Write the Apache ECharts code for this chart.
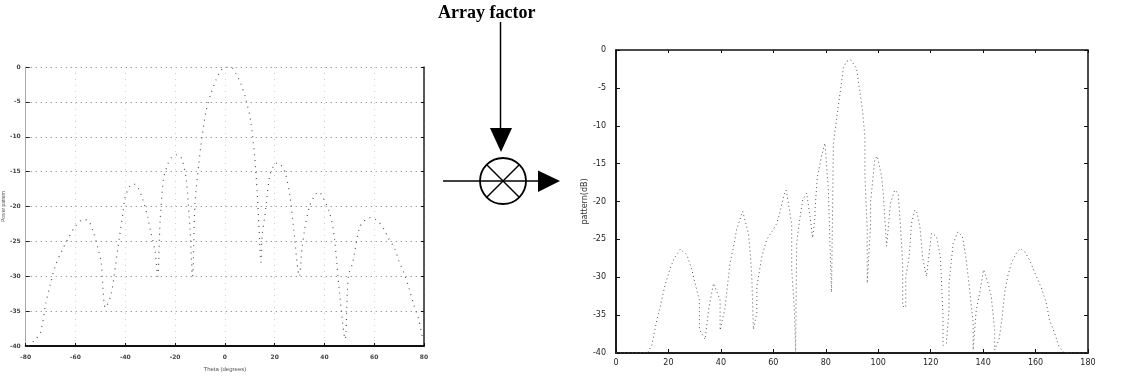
<!DOCTYPE html>
<html>
<head>
<meta charset="utf-8">
<script src="https://cdn.jsdelivr.net/npm/echarts@6/dist/echarts.min.js"></script>
<style>html,body{margin:0;padding:0;background:#fff}#c{width:1128px;height:377px}</style>
</head>
<body>
<div id="c"></div>
<script>
// ---- Left plot: element/subarray pattern (dB) vs theta (deg)
const leftTheta = [-79,-76,-74,-72,-70,-68,-65,-63,-60,-57,-55,-53,-51,-49.7,-48,-45.7,-43,-41,-40,-38,-36.5,-35,-33,-31,-29.8,-28,-27,-26,-24.6,-23,-21.5,-19.5,-17.5,-15.6,-14,-13,-12,-10.5,-9.6,-7.6,-5.6,-3.6,-1.6,0.5,2.4,4.4,6.4,8.4,10.4,12,13,13.7,14.5,15,16,18,19,20.3,21.7,23,24.3,26,27.7,29.9,31,32,34,36.3,37.8,39.2,42,43.9,46,48.3,49.6,51.3,54,55.6,58.3,60.3,62.2,64.2,65.6,68.2,69.9,71.9,73.9,75.8,77.8,79.5];
const leftDb = [-40,-39,-38,-34,-31,-28.4,-26,-24.6,-22.8,-21.9,-22,-23.5,-26,-28,-34.5,-32.6,-26,-21,-18.6,-17,-16.8,-17.2,-19,-21.5,-23.6,-26.5,-30,-22,-16,-14,-13,-12.6,-13,-16,-23.4,-30,-19.5,-14,-11.2,-6.4,-3.8,-1.9,-0.5,0,0,-0.9,-2.4,-4.6,-7.8,-13,-18,-22.9,-28,-24,-21.5,-15.6,-14.6,-13.8,-13.8,-14.3,-15.2,-18.2,-23.4,-30,-26,-23.4,-20,-18.3,-17.9,-18.6,-20.8,-24.2,-32.1,-39,-30,-28.1,-23.1,-22.2,-21.6,-21.8,-22.4,-23.4,-24.5,-26,-27.8,-29.5,-31.6,-34,-36.1,-39];

// ---- Right plot: total pattern (dB) vs angle (deg)
const rightAngle = [0,12,13.7,15.6,16.9,18.8,20.7,22.2,24.5,27,28.9,30.6,31.8,31.8,34,35.3,37.2,39.7,39.7,41.6,42.9,43.5,44.8,46,48.3,50.5,51.2,51.8,52.4,53.7,53.7,55.6,57.5,60,61.3,62.6,64.1,64.9,66.1,67,67,68,68.5,68.9,70.2,71.2,72.7,74,75,75.9,75.9,76.8,78.4,79.7,81,81.8,82.2,82.9,84.1,84.8,85.7,86.7,87.9,89.5,91.7,94,94.9,94.9,95.8,95.8,97.1,97.1,98.7,99.6,101.3,101.9,103.2,104.7,106.3,107.6,108.5,109.3,109.3,110.5,110.5,111.8,112.7,114,114.8,115.9,116.9,117.8,118.4,120.3,122.2,123.7,124.7,124.7,126,127,127,128.6,130.4,132.1,133.4,134.6,136.2,136.2,137.4,138.7,140.2,141.9,143.1,144.4,144.4,146.1,147.3,148.2,149.5,150.8,152.7,154.2,155.8,157.7,160.3,162.2,164.1,165.3,167.3,168.9,171,180];
const rightDb = [-40,-40,-38.9,-35.6,-33.8,-30.9,-28.8,-27.5,-26.3,-27,-29,-31.4,-33,-36.9,-38.2,-34.3,-30.8,-33,-37,-34,-29.9,-28.1,-26,-23.7,-21.3,-24.2,-26.8,-30.1,-36.9,-34.7,-31.2,-27.3,-25,-23.7,-22.9,-21.3,-19.1,-18.5,-21,-23,-29,-34,-40,-25.5,-22,-19.8,-18.9,-22,-24.8,-22,-21,-16.7,-14,-12.3,-18.5,-28,-32,-12.3,-9.2,-7.3,-5.1,-2.4,-1.5,-1.3,-2.4,-7.9,-11.4,-16.3,-23.7,-30.8,-23,-20,-14.5,-14,-16.7,-18.9,-25.9,-20.2,-18.5,-18.9,-23.3,-28,-33.8,-34,-29.9,-27.3,-22.9,-21.1,-21.5,-23.3,-27.3,-29,-29.9,-24.2,-24.6,-27.3,-35,-39,-38.7,-34.3,-30.8,-25.5,-24,-24.6,-27.3,-30.8,-36,-39.6,-34.3,-32.1,-29,-30.8,-32.5,-37,-39.6,-38.2,-35.2,-32,-29.7,-28.1,-26.8,-26.2,-26.6,-27.7,-29.9,-31.4,-33.4,-35.6,-37.4,-39.1,-40,-40];

const dbTicks = [0,-5,-10,-15,-20,-25,-30,-35,-40];

const leftData = leftTheta.map((t, i) => [t, leftDb[i]]);
const rightData = rightAngle.map((t, i) => [t, rightDb[i]]);

const chart = echarts.init(document.getElementById('c'), null, {renderer: 'canvas'});
const tinyLab = {fontSize: 6, color: '#444', fontFamily: 'DejaVu Sans'};
const smallLab = {fontSize: 8, color: '#222', fontFamily: 'DejaVu Sans'};

chart.setOption({
  animation: false,
  backgroundColor: '#fff',
  grid: [
    {left: 22, top: 67, width: 402, height: 282, show: false},
    {left: 616, top: 50, width: 472, height: 303, show: true, borderColor: '#111', borderWidth: 1.5, backgroundColor: 'transparent'}
  ],
  xAxis: [
    {gridIndex: 0, type: 'value', min: -80, max: 80, interval: 20,
     name: 'Theta (degrees)', nameLocation: 'middle', nameGap: 20, nameTextStyle: {fontSize: 6, color: '#555'},
     axisLine: {onZero: false, lineStyle: {color: '#111', width: 2}},
     axisTick: {inside: true, length: 3, lineStyle: {color: '#111'}},
     axisLabel: Object.assign({margin: 8, fontWeight: 'bold'}, tinyLab),
     splitLine: {show: true, lineStyle: {color: '#d0d0d0', type: [1, 5], width: 1}}},
    {gridIndex: 1, type: 'value', min: 0, max: 180, interval: 20,
     axisLine: {onZero: false, lineStyle: {color: '#111', width: 1.5}},
     axisTick: {inside: true, length: 4, lineStyle: {color: '#111'}},
     axisLabel: Object.assign({margin: 6}, smallLab),
     splitLine: {show: false}},
    {gridIndex: 1, type: 'value', min: 0, max: 180, interval: 20, position: 'top',
     axisLine: {show: false, onZero: false}, axisTick: {inside: true, length: 3, lineStyle: {color: '#111'}},
     axisLabel: {show: false}, splitLine: {show: false}}
  ],
  yAxis: [
    {gridIndex: 0, type: 'value', min: -40, max: 0, interval: 5,
     name: 'Power pattern', nameLocation: 'middle', nameGap: 14, nameRotate: 90, nameTextStyle: {fontSize: 5, color: '#555'},
     axisLine: {show: true, onZero: false, lineStyle: {color: '#aaa', width: 1}},
     axisTick: {inside: true, length: 4, lineStyle: {color: '#222'}},
     axisLabel: Object.assign({margin: 5, fontWeight: 'bold'}, tinyLab),
     splitLine: {show: true, lineStyle: {color: '#777', type: [1, 4], width: 1}}},
    {gridIndex: 0, type: 'value', min: -40, max: 0, interval: 5, position: 'right',
     axisLine: {show: true, onZero: false, lineStyle: {color: '#222', width: 1.5}},
     axisTick: {inside: true, length: 3, lineStyle: {color: '#111'}},
     axisLabel: {show: false}, splitLine: {show: false}},
    {gridIndex: 1, type: 'value', min: -40, max: 0, interval: 5,
     name: 'pattern(dB)', nameLocation: 'middle', nameGap: 27, nameRotate: 90,
     nameTextStyle: {fontSize: 8, color: '#333', fontFamily: 'DejaVu Sans'},
     axisLine: {onZero: false, lineStyle: {color: '#111', width: 1.5}},
     axisTick: {inside: true, length: 4, lineStyle: {color: '#111'}},
     axisLabel: Object.assign({margin: 10}, smallLab),
     splitLine: {show: false}},
    {gridIndex: 1, type: 'value', min: -40, max: 0, interval: 5, position: 'right',
     axisLine: {show: false, onZero: false}, axisTick: {inside: true, length: 4, lineStyle: {color: '#111'}},
     axisLabel: {show: false}, splitLine: {show: false}}
  ],
  series: [
    {type: 'line', xAxisIndex: 0, yAxisIndex: 0, data: leftData, showSymbol: false, smooth: 0.3,
     lineStyle: {color: '#555', width: 1.2, type: [1, 5]}},
    {type: 'line', xAxisIndex: 1, yAxisIndex: 2, data: rightData, showSymbol: false,
     lineStyle: {color: '#555', width: 1, type: [1, 3]}}
  ],
  graphic: [
    {type: 'text', left: 438, top: 4, style: {text: 'Array factor', font: 'bold 18px "Liberation Serif"', fill: '#000'}},
    {type: 'line', shape: {x1: 500.5, y1: 22, x2: 500.5, y2: 130}, style: {stroke: '#000', lineWidth: 1.5}},
    {type: 'polygon', shape: {points: [[490, 128], [512, 128], [501, 152]]}, style: {fill: '#000'}},
    {type: 'circle', shape: {cx: 503, cy: 181, r: 23}, style: {stroke: '#000', fill: 'none', lineWidth: 1.8}},
    {type: 'line', shape: {x1: 487, y1: 165, x2: 519, y2: 197}, style: {stroke: '#000', lineWidth: 1.5}},
    {type: 'line', shape: {x1: 487, y1: 197, x2: 519, y2: 165}, style: {stroke: '#000', lineWidth: 1.5}},
    {type: 'line', shape: {x1: 443, y1: 181, x2: 540, y2: 181}, style: {stroke: '#000', lineWidth: 1.5}},
    {type: 'polygon', shape: {points: [[538, 170.5], [538, 192], [560, 181]]}, style: {fill: '#000'}}
  ]
});
</script>
</body>
</html>
